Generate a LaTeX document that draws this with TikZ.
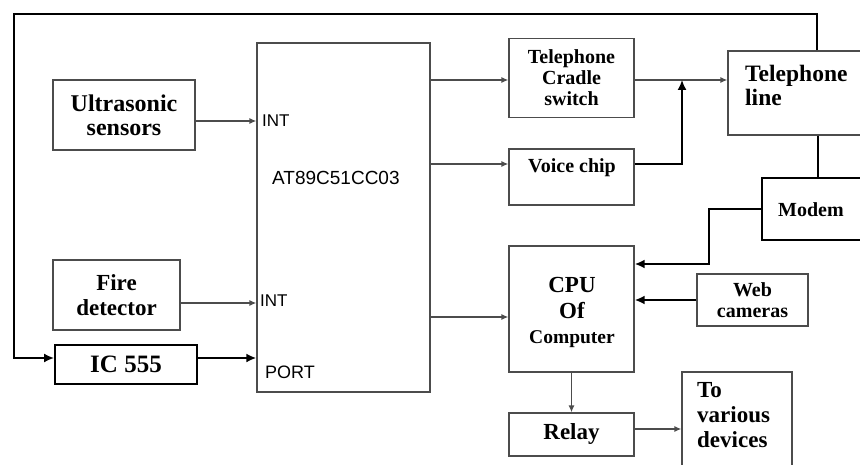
\documentclass[tikz,border=0pt]{standalone}
\usepackage{fontspec}
\setmainfont{Liberation Serif}
\newfontfamily\mssans{Liberation Sans}
\usetikzlibrary{arrows.meta,calc}
\begin{document}
\begin{tikzpicture}[x=1pt,y=-1pt,
 box/.style={draw=black!70,line width=1.3pt,inner sep=0pt,align=center},
 tbox/.style={draw=black,line width=2pt,inner sep=0pt,align=center},
 ln/.style={draw=black!70,line width=1.3pt},
 tln/.style={draw=black,line width=2pt},
 arr/.style={ln,-{Latex[length=7pt,width=6pt]}},
 tarr/.style={tln,-{Latex[length=10pt,width=9pt]}},
 lbl/.style={inner sep=0pt,align=left},
 pinlbl/.style={inner sep=0pt,anchor=base west,font=\mssans\fontsize{17}{20}\selectfont},
 fa/.style={font=\bfseries\fontsize{20}{21}\selectfont},
 fb/.style={font=\bfseries\fontsize{23}{25}\selectfont}
]
\useasboundingbox (0,0) rectangle (860,465);
\clip (0,0) rectangle (860,465);
\fill[white] (0,0) rectangle (860,465);

% row helpers
\coordinate (rowus) at (0,121);
\coordinate (rowfd) at (0,303);
\coordinate (rowic) at (0,358);
\coordinate (rowcr) at (0,80);
\coordinate (rowvc) at (0,164);
\coordinate (rowcpu) at (0,317);
\coordinate (rowmod) at (0,264);
\coordinate (rowrel) at (0,429);
\coordinate (fbr) at (817,14);
\coordinate (fbl) at (14,14);
\coordinate (jn) at (682,80);
\coordinate (mx) at (709,0);
\coordinate (tmx) at (818,0);

% left column
\node[box,font=\bfseries\fontsize{24}{24}\selectfont,minimum width=142pt,minimum height=70pt] (us) at (124,115) {Ultrasonic\\sensors};
\node[box,fb,minimum width=127pt,minimum height=70pt] (fd) at (116.5,295) {Fire\\detector};
\node[tbox,font=\bfseries\fontsize{25}{26}\selectfont,minimum width=142pt,minimum height=39pt] (ic) at (126,364.5) {IC 555};

% microcontroller
\node[box,minimum width=173pt,minimum height=349pt] (mcu) at (343.5,217.5) {};
\node[pinlbl] (int1) at (262,127) {INT};
\node[pinlbl,font=\mssans\fontsize{19}{22}\selectfont] (chip) at (272,185) {AT89C51CC03};
\node[pinlbl] (int2) at (260,306) {INT};
\node[pinlbl,font=\mssans\fontsize{18}{20}\selectfont] (port) at (265,378) {PORT};

% middle column
\node[box,fa,minimum width=125pt,minimum height=79pt] (cr) at (571.5,78) {Telephone\\Cradle\\switch};
\node[box,minimum width=125pt,minimum height=56pt] (vc) at (571.5,177) {};
\node[lbl,fa,anchor=base] (vctxt) at (572,173) {Voice chip};
\node[box,minimum width=125pt,minimum height=126pt] (cpu) at (571.5,309) {};
\node[lbl,anchor=base,font=\bfseries\fontsize{23}{26}\selectfont] (cpu1) at (572,293) {CPU};
\node[lbl,anchor=base,font=\bfseries\fontsize{23}{26}\selectfont] (cpu2) at (572,319) {Of};
\node[lbl,anchor=base,font=\bfseries\fontsize{19.5}{22}\selectfont] (cpu3) at (572,343) {Computer};
\node[box,fb,minimum width=125pt,minimum height=43pt] (rel) at (571.5,434.5) {Relay};

% right column
\node[box,minimum width=152pt,minimum height=84pt] (tl) at (804,93) {};
\node[lbl,font=\bfseries\fontsize{23.5}{24}\selectfont,anchor=west] (tltxt) at (745,85) {Telephone\\line};
\node[tbox,minimum width=118pt,minimum height=62pt] (mod) at (821,209) {};
\node[lbl,fa,anchor=base] (modtxt) at (811,217) {Modem};
\node[box,fa,minimum width=111pt,minimum height=52pt] (web) at (752.5,300) {Web\\cameras};
\node[box,minimum width=110pt,minimum height=108pt] (tvd) at (737,426) {};
\node[lbl,fb,anchor=west] (tvdtxt) at (697,415) {To\\various\\devices};

% connectors
\draw[tarr,line width=1.6pt] (fbr |- tl.north) -- (fbr) -- (fbl) |- (ic.west |- rowic);
\draw[tarr] (ic.east |- rowic) -- (mcu.west |- rowic);
\draw[arr] (us.east |- rowus) -- (mcu.west |- rowus);
\draw[arr] (fd.east |- rowfd) -- (mcu.west |- rowfd);
\draw[arr] (mcu.east |- rowcr) -- (cr.west |- rowcr);
\draw[arr] (mcu.east |- rowvc) -- (vc.west |- rowvc);
\draw[arr] (cr.east |- rowcr) -- (tl.west |- rowcr);
\draw[tarr,line width=1.6pt] (vc.east |- rowvc) -| (jn);
\draw[arr] (mcu.east |- rowcpu) -- (cpu.west |- rowcpu);
\draw[tln] (tmx |- tl.south) -- (tmx |- mod.north);
\draw[tarr] (mod.west) -- (mx |- mod.west) -- (mx |- rowmod) -- (cpu.east |- rowmod);
\draw[tarr] (web.west) -- (web.west -| cpu.east);
\draw[arr] (cpu.south) -- (rel.north);
\draw[arr] (rel.east |- rowrel) -- (tvd.west |- rowrel);
\end{tikzpicture}
\end{document}
